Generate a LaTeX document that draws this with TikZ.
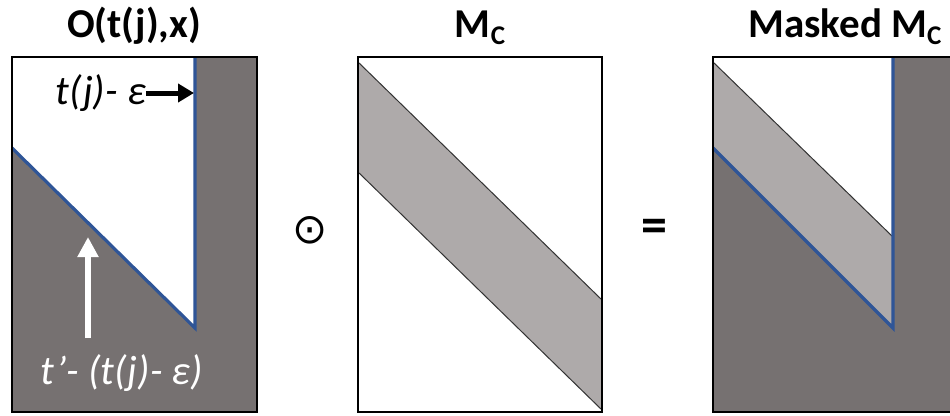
\documentclass[tikz,border=0pt]{standalone}
\usepackage{fontspec}
\setmainfont{Carlito}
\newfontfamily\symfont{DejaVu Sans}
\usetikzlibrary{arrows.meta}
\definecolor{dgray}{RGB}{118,113,113}
\definecolor{lgray}{RGB}{174,170,170}
\definecolor{mblue}{RGB}{47,85,151}
\tikzset{
  border/.style={draw=black, line width=2.2pt},
  bluel/.style={draw=mblue, line width=3.2pt, line join=miter},
  thinl/.style={draw=black!80, line width=1pt},
  title/.style={font=\fontsize{41}{44}\selectfont\bfseries, inner sep=0pt, anchor=base},
  lbl/.style={font=\fontsize{41}{44}\selectfont\itshape, inner sep=0pt},
}
\newcommand{\subC}{\raisebox{-7pt}{\fontsize{27}{27}\selectfont C}}
\begin{document}
\begin{tikzpicture}[x=1pt,y=-1pt]
\useasboundingbox (0,0) rectangle (950,415);
\fill[white] (0,0) rectangle (950,415);
% ---------- Panel 1
\fill[white] (12,57) rectangle (257,412);
\fill[dgray] (195,57) -- (257,57) -- (257,412) -- (12,412) -- (12,148) -- (195,328) -- cycle;
\draw[bluel] (12,148) -- (195,328) -- (195,57);
\draw[border] (12,57) rectangle (257,412);
\node[title] (t1) at (134,37) {O(t(j),x)};
\node[lbl, anchor=east] (l1) at (146,93) {t(j)- ε};
\coordinate (vline) at (194,93);
\draw[line width=5pt, -{Triangle[width=18pt,length=16pt]}] (l1.east) -- (vline);
\node[lbl, text=white, anchor=base] (l2) at (122,384) {t’- (t(j)- ε)};
\coordinate (wa1) at (88,338);
\coordinate (wa2) at (88,237);
\draw[white, line width=6pt, -{Triangle[width=20pt,length=20pt]}] (wa1) -- (wa2);
% ---------- odot
\node[font=\symfont\fontsize{42}{42}\selectfont, inner sep=0pt] (op1) at (310,230) {⊙};
% ---------- Panel 2
\fill[white] (358,57) rectangle (602,412);
\fill[lgray] (358,62) -- (602,300) -- (602,410) -- (358,172) -- cycle;
\draw[thinl] (358,62) -- (602,300);
\draw[thinl] (358,172) -- (602,410);
\draw[border] (358,57) rectangle (602,412);
\node[title] (t2) at (480,37) {M\subC};
% ---------- equals
\node[font=\fontsize{52}{52}\selectfont\bfseries, inner sep=0pt] (op2) at (654,231) {=};
% ---------- Panel 3
\begin{scope}
\clip (0,0) rectangle (950,415);
\fill[white] (713,57) rectangle (960,412);
\fill[lgray] (713,62) -- (893,237) -- (893,328) -- (713,148) -- cycle;
\fill[dgray] (893,57) -- (960,57) -- (960,412) -- (713,412) -- (713,148) -- (893,328) -- cycle;
\draw[thinl] (713,62) -- (893,237);
\draw[bluel] (713,148) -- (893,328) -- (893,57);
\draw[border] (960,57) -- (713,57) -- (713,412) -- (960,412);
\end{scope}
\node[title] (t3) at (845,37) {Masked M\subC};
\end{tikzpicture}
\end{document}
